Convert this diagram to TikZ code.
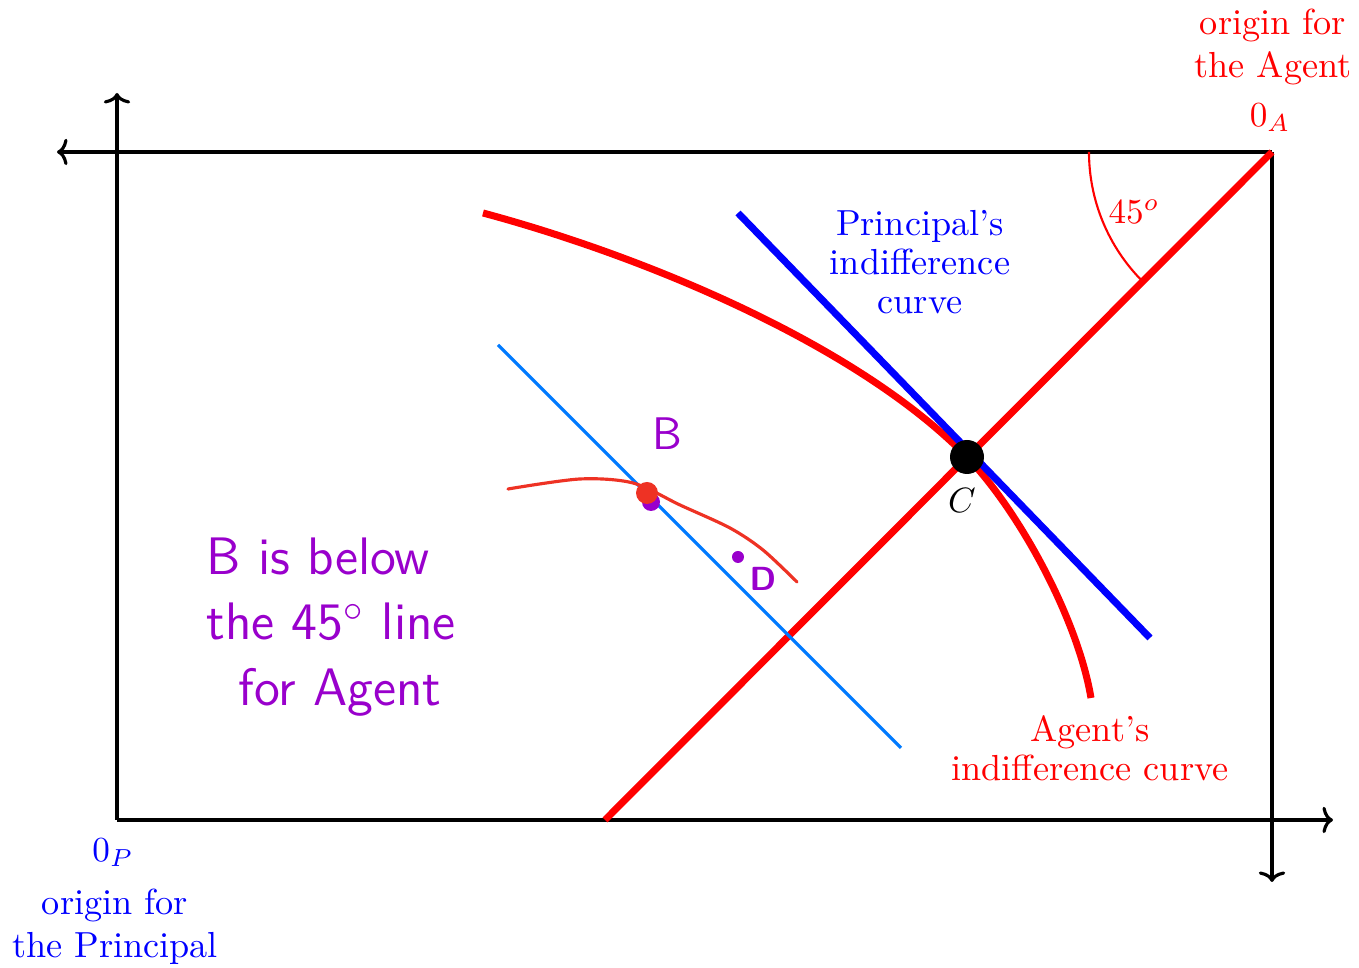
\documentclass[tikz,border=0pt]{standalone}
\usepackage{amsmath,amssymb}
\usepackage{xcolor}
\usepackage{tikz}
\usetikzlibrary{arrows.meta}

\definecolor{handblue}{RGB}{0,122,255}
\definecolor{handred}{RGB}{238,50,36}
\definecolor{handpurple}{RGB}{153,0,204}

\begin{document}
\begin{tikzpicture}[
  x=0.01cm, y=-0.01cm,
  axis/.style={line width=0.9pt, -{To[length=3pt,width=7.5pt]}},
  lbl/.style={align=center, font=\fontsize{10.3}{11}\selectfont, inner sep=1pt},
  wide/.style={font=\fontsize{10.3}{12.2}\selectfont},
  thickred/.style={red, line width=2pt},
  thickblue/.style={blue, line width=2pt},
  hand/.style={text=handpurple, font=\sffamily\fontsize{15}{18.6}\selectfont, inner sep=0pt}
]
\useasboundingbox (0,0) rectangle (1359,968);
% corners of the box
\coordinate (OP) at (117,820);
\coordinate (OA) at (1272,152);
\coordinate (up) at (117,93);
\coordinate (left) at (57,152);
\coordinate (right) at (1333,820);
\coordinate (down) at (1272,882);
\draw[axis] (OP) -- (up);
\draw[axis] (OA) -- (left);
\draw[axis] (OP) -- (right);
\draw[axis] (OA) -- (down);
% 45 degree line and curves
\coordinate (diag) at (605,820);
\coordinate (C) at (967,457);
\coordinate (pi1) at (738,213);
\coordinate (pi2) at (1150,638);
\coordinate (ag1) at (483,213);
\coordinate (ag2) at (1091,698);
\draw[thickred] (OA) -- (diag);
\draw[red, line width=0.6pt] (OA) ++(180:183) arc[start angle=180, end angle=135, radius=183];
\draw[thickred] (ag1) .. controls (643,256) and (857,344) .. (C) .. controls (1020,512) and (1078,620) .. (ag2);
\draw[thickblue] (pi1) -- (pi2);
\fill (C) circle (17);
% labels
\node[lbl, wide, red] (agorig) at (1273,47) {origin for\\the Agent};
\node[lbl, red] (agzero) at (1270,118) {$0_A$};
\node[lbl, red] (ang) at (1134,212) {$45^o$};
\node[lbl, blue] (pilab) at (920,262) {Principal's\\indifference\\curve};
\node[lbl, red] (aglab) at (1090,748) {Agent's\\indifference curve};
\node[lbl] (clab) at (962,501) {$C$};
\node[lbl, blue] (pizero) at (113,853) {$0_P$};
\node[lbl, wide, blue] (piorig) at (115,927) {origin for\\the Principal};
% handwritten additions
\coordinate (hb1) at (498,345);
\coordinate (hb2) at (901,748);
\draw[handblue, line width=0.9pt] (hb1) -- (hb2);
\draw[handred, line width=0.9pt, line cap=round] plot[smooth] coordinates {(508,489) (580,479) (633,483) (680,505) (730,528) (763,550) (797,582)};
\fill[handpurple] (651,502) circle (9);
\fill[handred] (647,493) circle (11);
\fill[handpurple] (738,557) circle (6);
\node[hand, font=\sffamily\fontsize{13}{15}\selectfont] (blab) at (667,434) {B};
\node[hand, font=\sffamily\bfseries\fontsize{9.5}{11}\selectfont] (dlab) at (763,579) {D};
\node[hand, anchor=north west, align=left] (note) at (206,537) {B is below\\the 45$^\circ$ line\\\hspace{0.6em}for Agent};
\end{tikzpicture}
\end{document}
